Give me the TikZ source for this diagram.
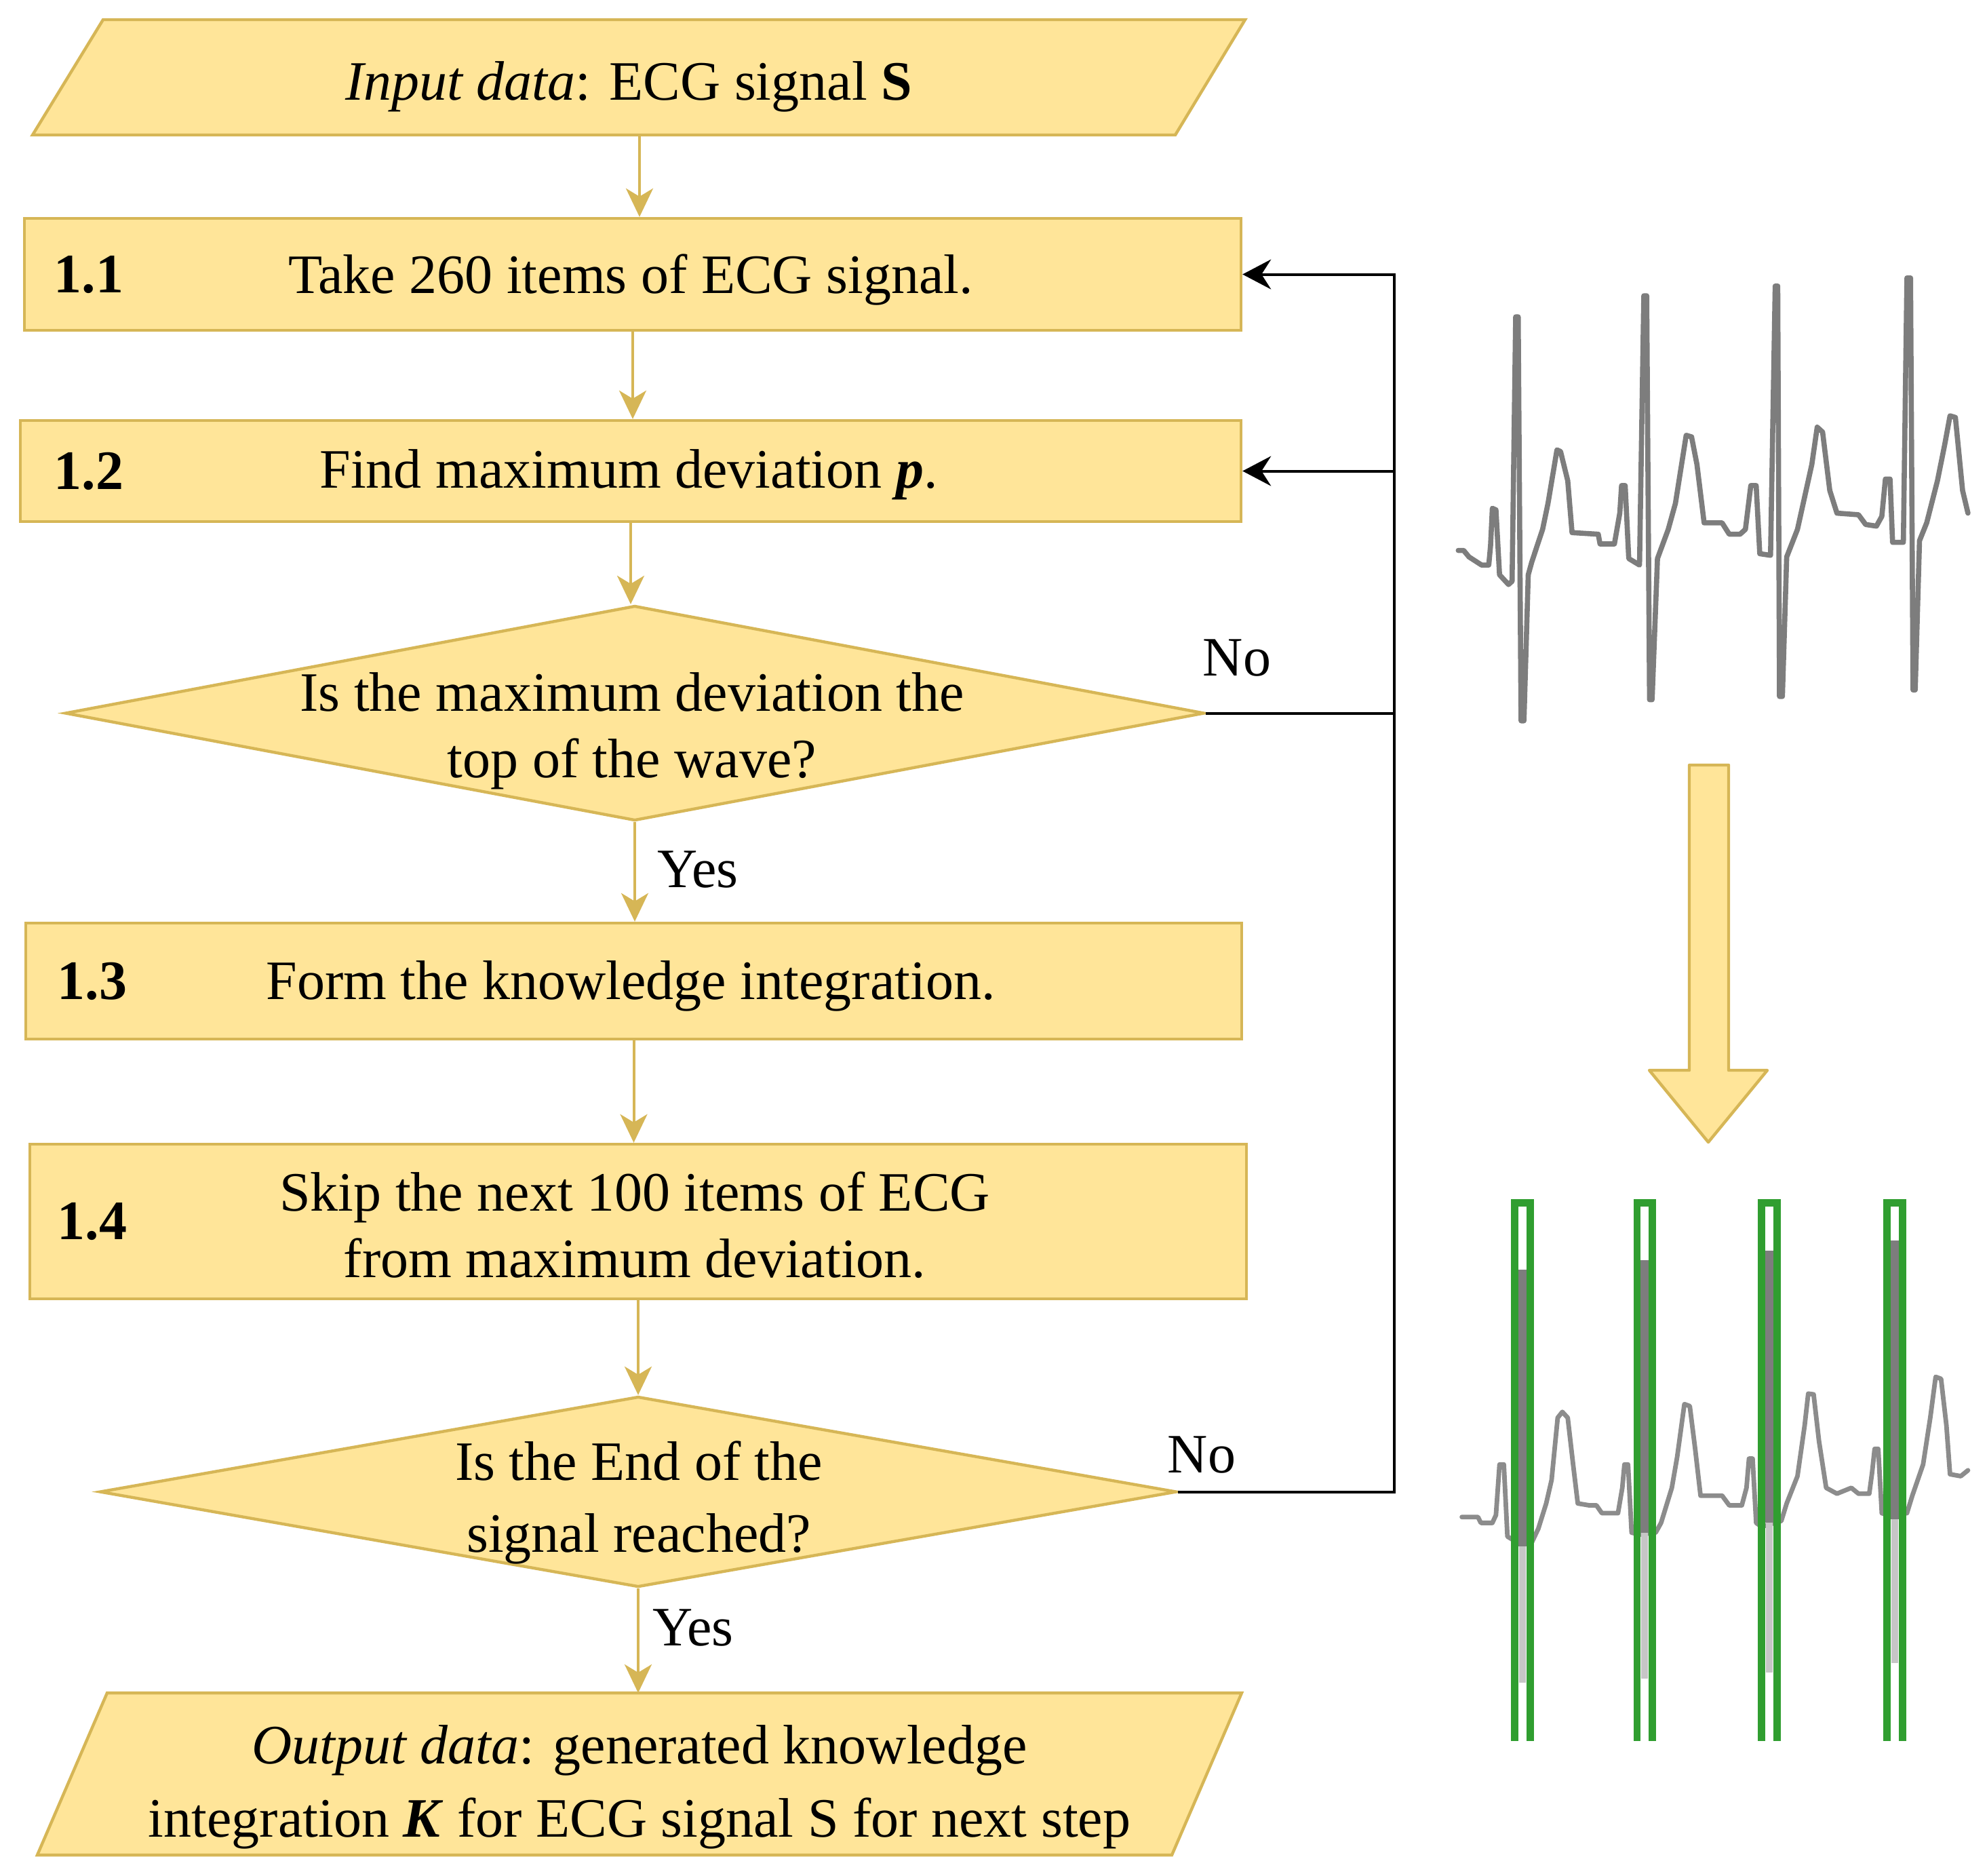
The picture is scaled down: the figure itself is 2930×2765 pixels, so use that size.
\documentclass[tikz,border=0pt]{standalone}
\usepackage{fontspec}
\setmainfont{Liberation Serif}
\usetikzlibrary{shapes.geometric, arrows.meta}
\definecolor{boxfill}{RGB}{255,229,153}
\definecolor{boxline}{RGB}{214,182,86}
\definecolor{ecggray}{RGB}{125,125,125}
\definecolor{ecglight}{RGB}{140,140,140}
\definecolor{ecggreen}{RGB}{48,158,48}
\begin{document}
\begin{tikzpicture}[x=0.25pt,y=-0.25pt,
  txt/.style={font=\fontsize{20.5}{24.5}\selectfont, align=center, text=black, inner sep=0pt},
  stepbox/.style={draw=boxline, fill=boxfill, line width=1.1pt, rectangle, inner sep=0pt},
  decision/.style={draw=boxline, fill=boxfill, line width=1.1pt, diamond, inner sep=0pt},
  io/.style={draw=boxline, fill=boxfill, line width=1.1pt},
  garrow/.style={draw=boxline, line width=1pt, -{Stealth[length=10.5pt, width=10pt, inset=3pt]}},
  fbline/.style={draw=black, line width=1pt},
  fbarrow/.style={fbline, -{Stealth[length=10.5pt, width=11pt, inset=3.5pt]}},
  numlab/.style={txt, font=\fontsize{20.5}{24.5}\selectfont\bfseries, anchor=west},
  ecg/.style={draw=ecggray, line width=1.9pt, line join=round, line cap=round},
  ecgb/.style={draw=ecglight, line width=1.7pt, line join=round, line cap=round},
  grn/.style={draw=ecggreen, line width=2.7pt},
]
\useasboundingbox (0,0) rectangle (2930,2765);

% ---- input
\draw[io] (152,29) -- (1836,29) -- (1733,199) -- (48,199) -- cycle;
\node[txt] (in) at (927,128) {\textit{Input data}: ECG signal \textbf{S}};
\coordinate (inB) at (943,199);

% ---- steps
\node[stepbox, minimum width=448.5pt, minimum height=41.25pt] (b11) at (933,404.5) {};
\node[txt] (t11) at (930,412) {Take 260 items of ECG signal.};
\node[numlab] (n11) at (79,404.5) {1.1};

\node[stepbox, minimum width=450pt, minimum height=37.25pt] (b12) at (930,694.5) {};
\node[txt] (t12) at (927,700) {Find maximum deviation \textbf{\textit{p}}.};
\node[numlab] (n12) at (79,694.5) {1.2};

\node[decision, minimum width=420pt, minimum height=79.25pt] (d1) at (936,1051.5) {};
\node[txt] (d1t) at (932,1078) {Is the maximum deviation the\\top of the wave?};

\node[stepbox, minimum width=448.25pt, minimum height=42.75pt] (b13) at (934.5,1446.5) {};
\node[txt] (t13) at (930,1454) {Form the knowledge integration.};
\node[numlab] (n13) at (84,1446.5) {1.3};

\node[stepbox, minimum width=448.5pt, minimum height=57pt] (b14) at (941,1801) {};
\node[txt] (t14) at (936,1806) {Skip the next 100 items of ECG\\from maximum deviation.};
\node[numlab] (n14) at (84,1801) {1.4};

\node[decision, minimum width=397pt, minimum height=70.25pt] (d2) at (941,2199.5) {};
\node[txt, font=\fontsize{20.5}{26.5}\selectfont] (d2t) at (942,2215) {Is the End of the\\signal reached?};

% ---- output
\draw[io] (158,2496) -- (1831,2496) -- (1728,2735) -- (55,2735) -- cycle;
\node[txt, font=\fontsize{20.5}{27}\selectfont] (out) at (943,2635) {\textit{Output data}: generated knowledge\\integration \textbf{\textit{K}} for ECG signal S for next step};
\coordinate (outT) at (941,2496);

% ---- gold connectors
\draw[garrow] (inB) -- (inB |- b11.north);
\draw[garrow] (b11.south) -- (b11.south |- b12.north);
\draw[garrow] (b12.south) -- (b12.south |- d1.north);
\draw[garrow] (d1.south) -- (d1.south |- b13.north);
\draw[garrow] (b13.south) -- (b13.south |- b14.north);
\draw[garrow] (b14.south) -- (b14.south |- d2.north);
\draw[garrow] (d2.south) -- (d2.south |- outT);

\node[txt] (yes1) at (1029,1282) {Yes};
\node[txt] (yes2) at (1022,2400) {Yes};
\node[txt] (no1) at (1824,970) {No};
\node[txt] (no2) at (1772,2145) {No};

% ---- feedback
\coordinate (fbtop) at (2056,404.5);
\draw[fbarrow] (d2.east) -| (fbtop) -- (b11.east);
\draw[fbarrow] (fbtop |- b12.east) -- (b12.east);
\draw[fbline] (d1.east) -- (fbtop |- d1.east);

% ---- big arrow
\draw[io, line join=round] (2491,1128) -- (2549,1128) -- (2549,1578) -- (2606,1578) -- (2519,1684) -- (2432,1578) -- (2491,1578) -- cycle;

% ---- ECG 1
\begin{scope}[shift={(2100,350)}, xscale=0.5293, yscale=0.4783]
\draw[ecg] (95,965) -- (110,965) -- (125,985) -- (160,1010) -- (180,1010) -- (185,950) -- (190,835) -- (200,840) -- (210,1040) -- (235,1070) -- (245,1060) -- (255,245) -- (262,245) -- (270,1490) -- (278,1490) -- (290,1040) -- (300,1000) -- (330,900) -- (345,820) -- (370,655) -- (380,660) -- (400,750) -- (412,910) -- (485,915) -- (490,945) -- (530,945) -- (545,850) -- (550,765) -- (560,765) -- (570,990) -- (600,1010)
 -- (612,180) -- (620,180) -- (628,1425) -- (635,1425) -- (650,990) -- (680,900) -- (700,820) -- (730,610) -- (745,615) -- (760,700) -- (780,880) -- (830,880) -- (850,915) -- (880,915) -- (895,900) -- (910,765) -- (925,765) -- (935,975) -- (965,980)
 -- (978,150) -- (985,150) -- (990,1415) -- (998,1415) -- (1010,985) -- (1040,900) -- (1080,700) -- (1095,585) -- (1110,600) -- (1130,780) -- (1150,850) -- (1210,855) -- (1230,885) -- (1260,890) -- (1275,860) -- (1285,745) -- (1298,745) -- (1305,940) -- (1335,940)
 -- (1345,125) -- (1355,125) -- (1362,1395) -- (1368,1395) -- (1380,935) -- (1400,880) -- (1430,750) -- (1450,640) -- (1465,550) -- (1480,555) -- (1500,780) -- (1515,850);
\end{scope}

% ---- ECG 2
\begin{scope}[shift={(2100,1700)}, xscale=0.5293, yscale=0.574]
\draw[ecgb] (105,935) -- (150,935) -- (158,950) -- (190,950) -- (200,930) -- (210,800) -- (222,800) -- (232,985) -- (250,995) -- (300,1000) -- (318,965) -- (340,900) -- (355,840) -- (372,680) -- (385,665) -- (400,680) -- (415,800) -- (428,900) -- (460,905) -- (480,905) -- (495,925) -- (540,925) -- (552,860) -- (558,800) -- (568,800) -- (578,975) -- (600,980)
 -- (645,975) -- (660,950) -- (690,860) -- (705,780) -- (725,645) -- (740,650) -- (755,760) -- (770,880) -- (830,880) -- (850,905) -- (885,905) -- (898,860) -- (905,785) -- (915,785) -- (925,950) -- (940,960)
 -- (995,945) -- (1010,900) -- (1040,830) -- (1060,700) -- (1070,618) -- (1085,620) -- (1100,740) -- (1120,860) -- (1150,875) -- (1190,860) -- (1210,875) -- (1240,875) -- (1248,820) -- (1255,760) -- (1265,760) -- (1275,925) -- (1290,930)
 -- (1345,925) -- (1360,880) -- (1390,800) -- (1410,680) -- (1425,575) -- (1440,580) -- (1455,700) -- (1465,825) -- (1495,830) -- (1515,815);
\foreach \l/\t/\d/\b in {252/300/1010/1360, 593/275/975/1350, 940/250/950/1335, 1290/225/940/1310} {
  \fill[ecggray] (\l+10,\t) rectangle (\l+33,\d);
  \fill[gray!45] (\l+12,\d) rectangle (\l+31,\b);
  \draw[grn] (\l,1510) -- (\l,128) -- (\l+43,128) -- (\l+43,1510);
}
\end{scope}
\end{tikzpicture}
\end{document}
